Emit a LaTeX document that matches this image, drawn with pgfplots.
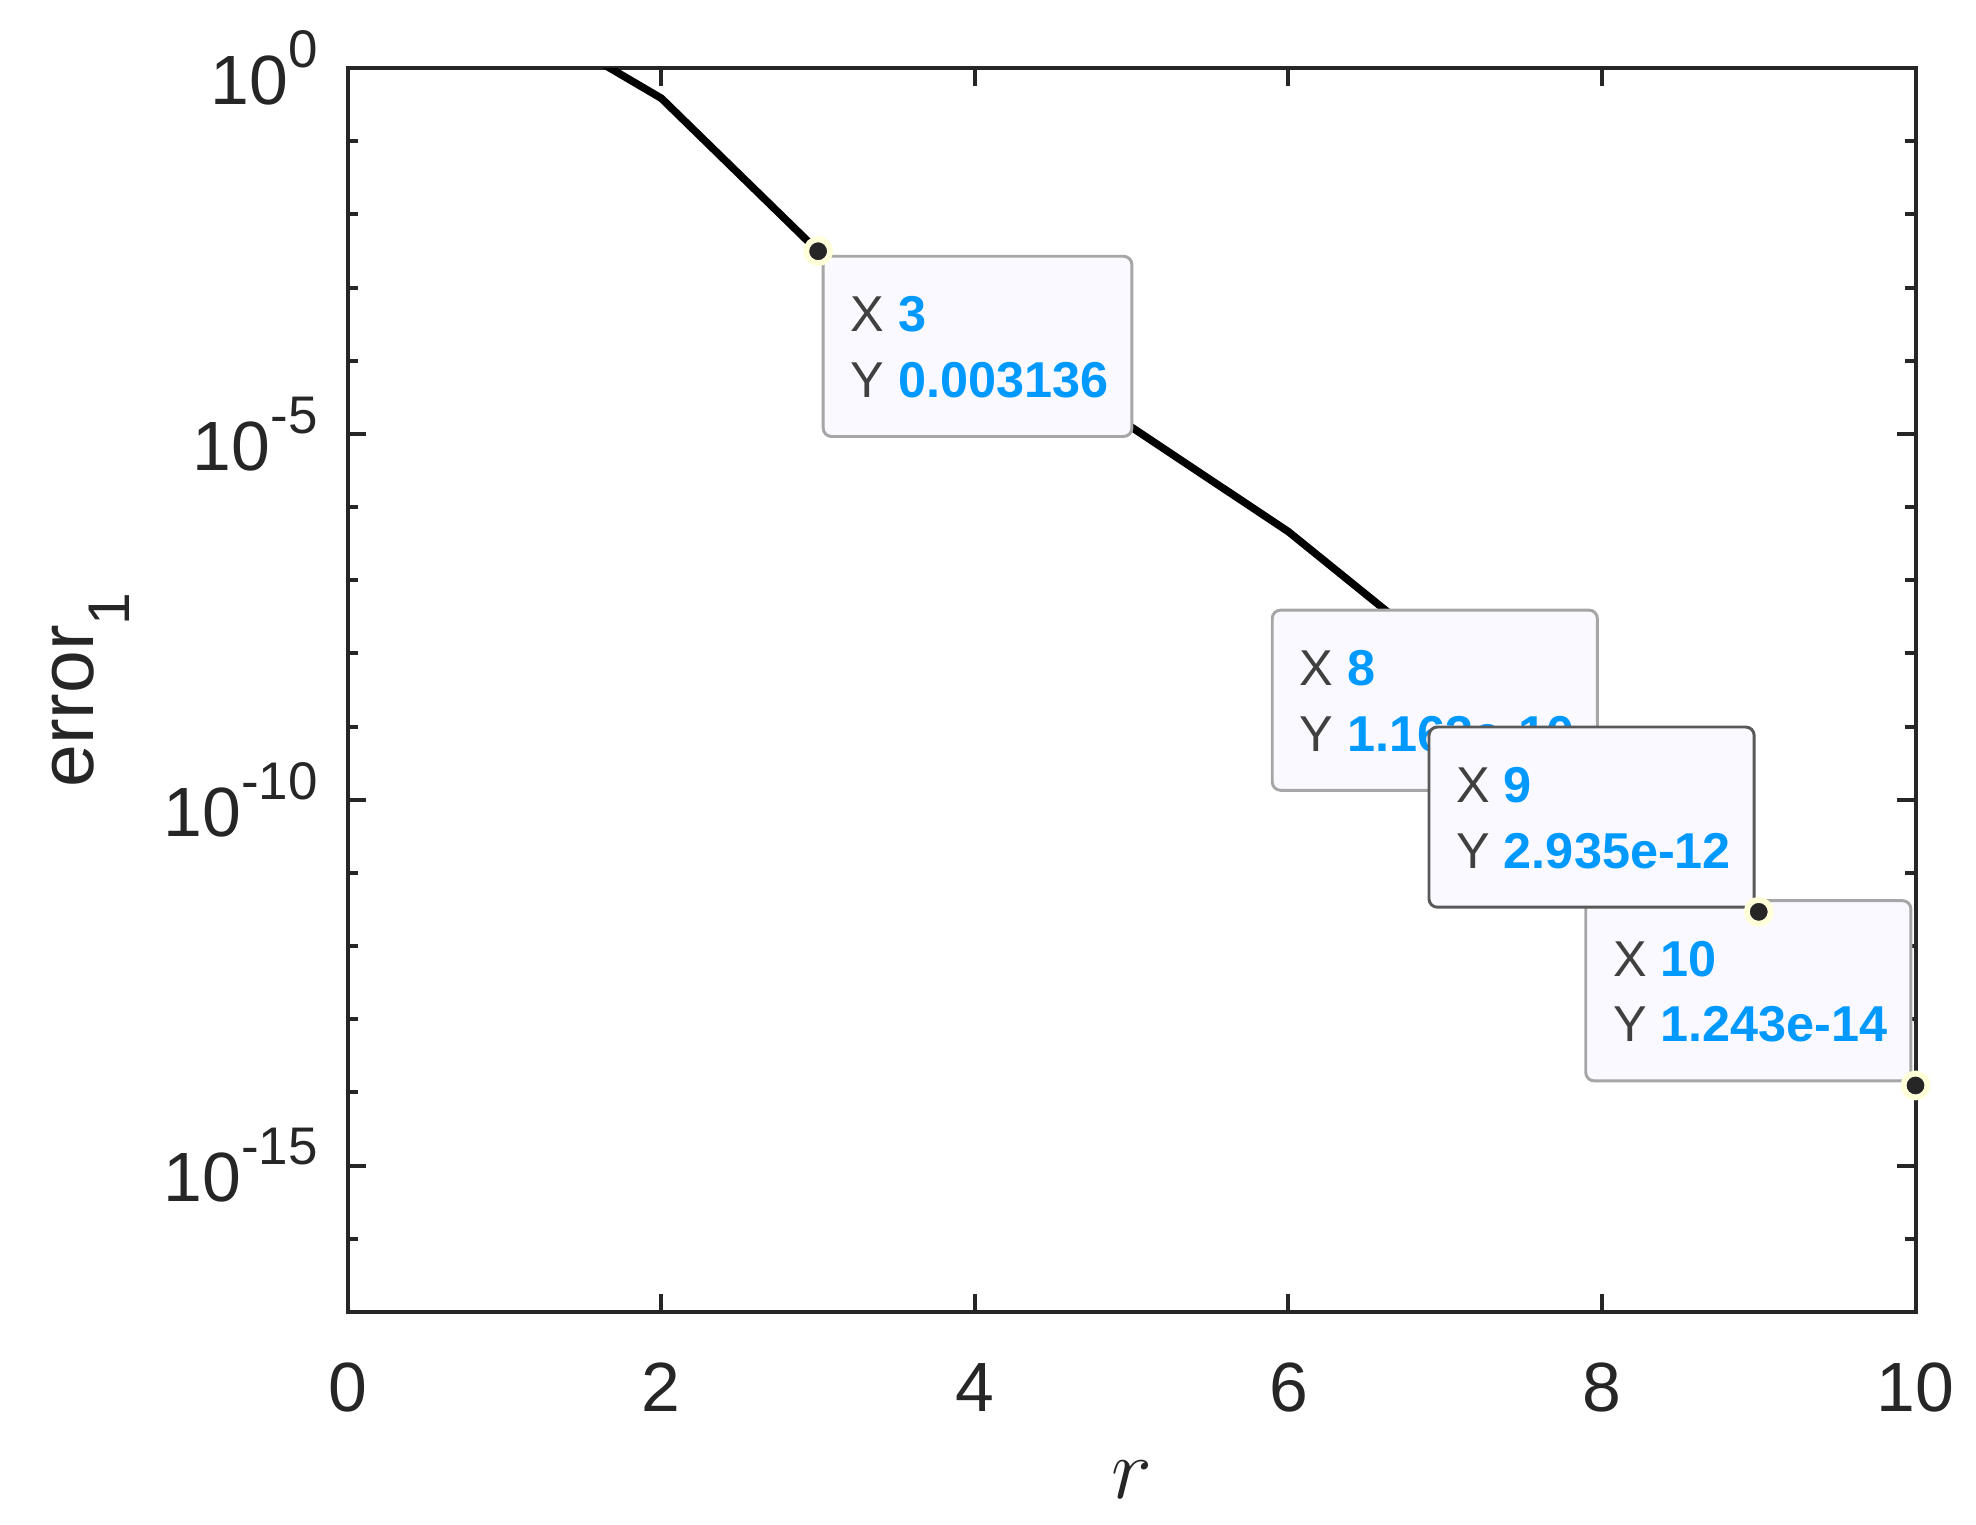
\documentclass[border=0pt]{standalone}
\usepackage{fontspec}
\setmainfont{Liberation Sans}
\usepackage{pgfplots}
\pgfplotsset{compat=1.18}
\definecolor{axgray}{RGB}{38,38,38}
\definecolor{tipblue}{RGB}{0,153,255}
\definecolor{tipgray}{RGB}{64,64,64}
\definecolor{tipfill}{RGB}{249,249,255}
\definecolor{tipedge}{RGB}{166,166,166}
\definecolor{tipedgesel}{RGB}{89,89,89}
\definecolor{ring}{RGB}{255,255,218}
\definecolor{dotfill}{RGB}{38,38,38}
\newcommand{\tsup}[1]{\raisebox{8.8pt}{\fontsize{12.6}{14}\selectfont #1}}
\newcommand{\tl}[1]{10\tsup{#1}}
\tikzset{
  tip/.style={draw=tipedge, fill=tipfill, line width=0.7pt, rounded corners=2pt,
    minimum height=42.9pt, inner sep=0pt, outer sep=0pt},
  tiptext/.style={anchor=base west, inner sep=0pt, font=\fontsize{12}{14}\selectfont},
}
\begin{document}
\begin{tikzpicture}
\useasboundingbox (-82.8pt,-50.7pt) rectangle (387.6pt,312.3pt);
\begin{axis}[
  at={(0pt,0pt)}, anchor=south west,
  scale only axis, width=373.2pt, height=296.1pt,
  xmin=0, xmax=10, ymode=log, ymin=1e-17, ymax=1,
  axis line style={axgray, line width=0.95pt},
  every tick/.style={axgray, line width=0.95pt},
  tick align=inside,
  xtick={0,2,4,6,8,10}, xticklabels={0,2,4,6,8,10},
  ytick={1e-15,1e-10,1e-5,1},
  yticklabels={\tl{-15},\tl{-10},\tl{-5},\tl{0}},
  minor ytick={1e-16,1e-14,1e-13,1e-12,1e-11,1e-9,1e-8,1e-7,1e-6,1e-4,1e-3,1e-2,1e-1},
  major tick length=4.3pt, minor tick length=2.4pt,
  tick label style={font=\fontsize{16.6}{20}\selectfont, text=axgray},
  xticklabel style={inner sep=0pt, anchor=north, yshift=-12pt},
  yticklabel style={inner sep=0pt, anchor=east, xshift=-7pt},
  xlabel={$r$},
  xlabel style={font=\fontsize{20.5}{24}\selectfont, text=axgray, at={(axis description cs:0.5,0)}, anchor=base, yshift=-44.4pt},
  ylabel={error\raisebox{-8.7pt}{\fontsize{14}{16}\selectfont 1}},
  ylabel style={font=\fontsize{18.3}{22}\selectfont, text=axgray, at={(axis description cs:-0.1624,0.5)}, anchor=base},
  clip mode=individual,
]
\addplot[black, line width=1.8pt] coordinates {
  (1,7) (2,0.386) (3,0.003136) (4,1.6e-4) (5,1.23e-5) (6,4.6e-7)
  (7,8.5e-9) (8,1.163e-10) (9,2.935e-12) (10,1.243e-14)};

\node[tip, anchor=north west, xshift=1.2pt, yshift=-1.2pt, minimum width=73.5pt] (b1) at (axis cs:3,0.003136) {};
\node[tiptext] at ([xshift=6.3pt,yshift=-18pt]b1.north west) {\textcolor{tipgray}{X} \textcolor{tipblue}{\bfseries 3}};
\node[tiptext] at ([xshift=6.3pt,yshift=-33.6pt]b1.north west) {\textcolor{tipgray}{Y} \textcolor{tipblue}{\bfseries 0.003136}};

\node[tip, anchor=south east, xshift=-1.1pt, yshift=1.1pt, minimum width=77.4pt] (b2) at (axis cs:8,1.163e-10) {};
\node[tiptext] at ([xshift=6.3pt,yshift=-18pt]b2.north west) {\textcolor{tipgray}{X} \textcolor{tipblue}{\bfseries 8}};
\node[tiptext] at ([xshift=6.3pt,yshift=-33.6pt]b2.north west) {\textcolor{tipgray}{Y} \textcolor{tipblue}{\bfseries 1.163e-10}};

\node[tip, anchor=south east, xshift=-1.1pt, yshift=1.1pt, minimum width=77.4pt] (b4) at (axis cs:10,1.243e-14) {};
\node[tiptext] at ([xshift=6.3pt,yshift=-18pt]b4.north west) {\textcolor{tipgray}{X} \textcolor{tipblue}{\bfseries 10}};
\node[tiptext] at ([xshift=6.3pt,yshift=-33.6pt]b4.north west) {\textcolor{tipgray}{Y} \textcolor{tipblue}{\bfseries 1.243e-14}};

\node[tip, draw=tipedgesel, anchor=south east, xshift=-1.1pt, yshift=1.1pt, minimum width=77.4pt] (b3) at (axis cs:9,2.935e-12) {};
\node[tiptext] at ([xshift=6.3pt,yshift=-18pt]b3.north west) {\textcolor{tipgray}{X} \textcolor{tipblue}{\bfseries 9}};
\node[tiptext] at ([xshift=6.3pt,yshift=-33.6pt]b3.north west) {\textcolor{tipgray}{Y} \textcolor{tipblue}{\bfseries 2.935e-12}};

\addplot[only marks, mark=*, mark size=2.85pt, mark options={fill=dotfill, draw=ring, line width=1.4pt}]
  coordinates {(3,0.003136) (9,2.935e-12) (10,1.243e-14)};
\end{axis}
\end{tikzpicture}
\end{document}
